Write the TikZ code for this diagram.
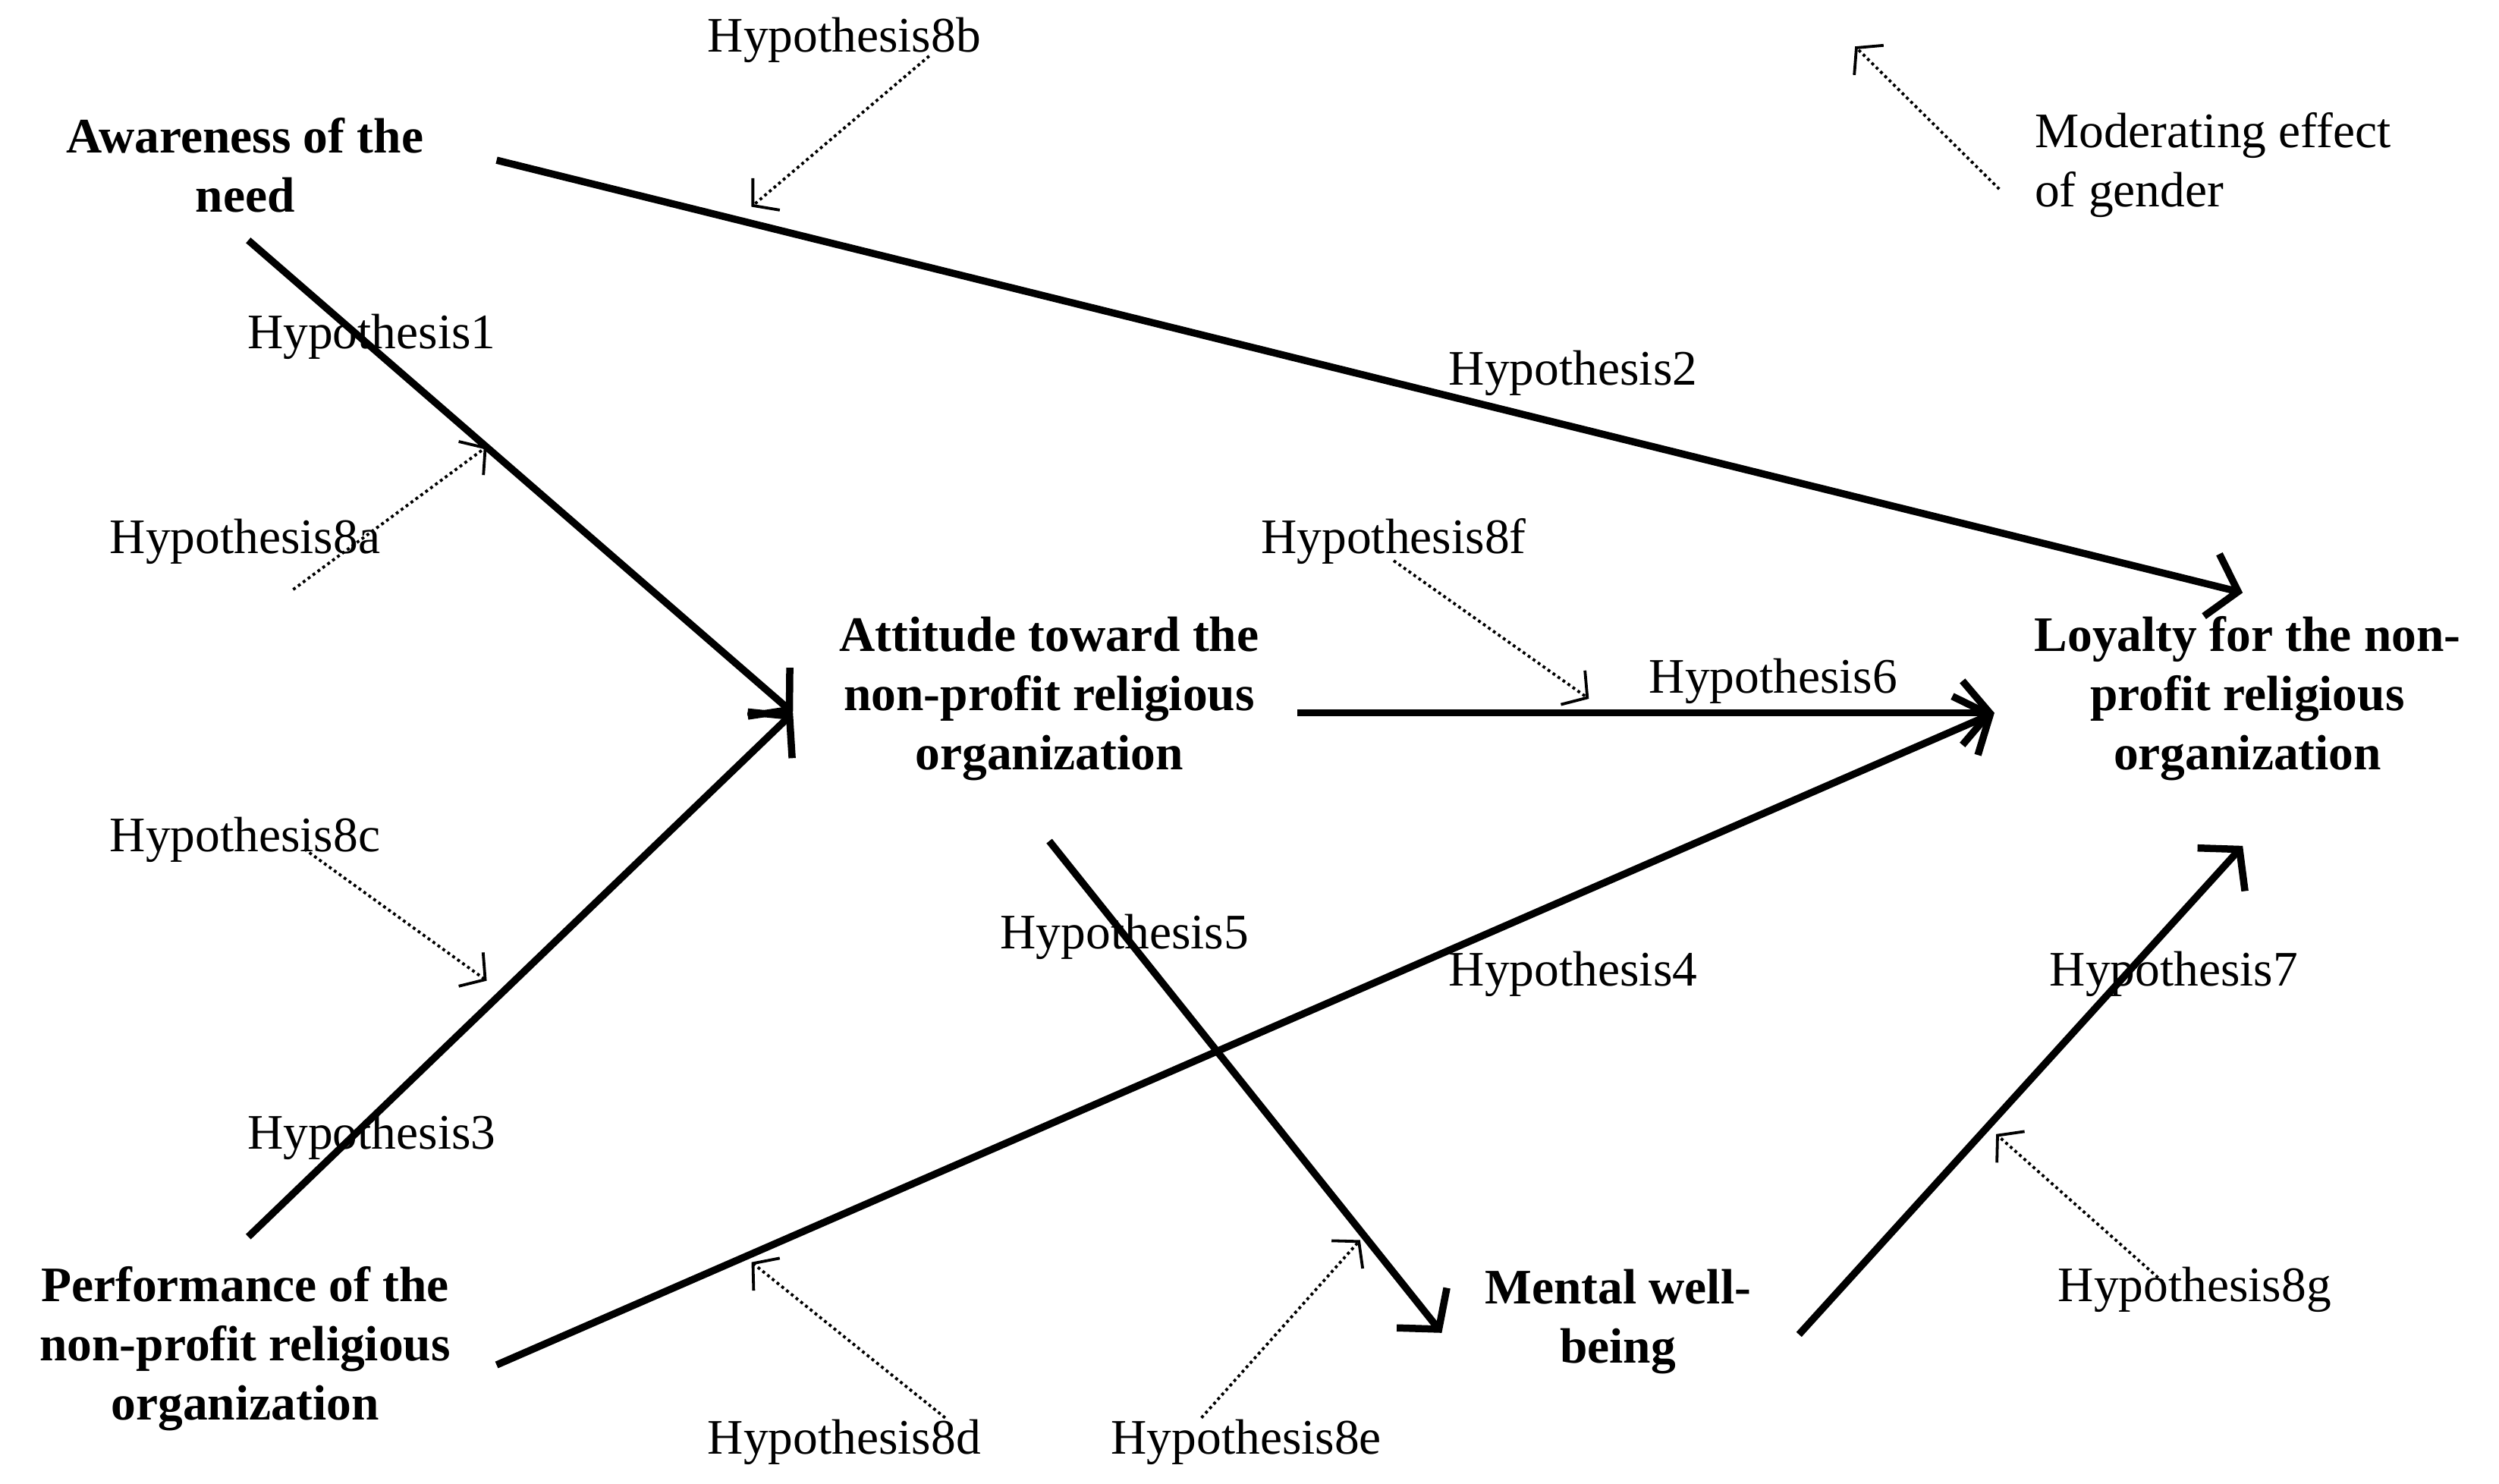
\documentclass[tikz,border=0pt]{standalone}
\usepackage{fontspec}
\setmainfont{Liberation Serif}
\usetikzlibrary{arrows.meta}
\begin{document}
\begin{tikzpicture}[x=1pt,y=-1pt,
 lab/.style={font=\fontsize{31}{37}\selectfont,inner sep=0pt},
 var/.style={font=\fontsize{31}{37}\selectfont\bfseries,align=center,inner sep=0pt},
 main/.style={line width=4.5pt,-{Straight Barb[length=17pt,width=40pt,line width=4.5pt]}},
 mod/.style={line width=1.8pt,dotted,-{Straight Barb[length=11pt,width=26pt,line width=1.8pt,sep]}}]
\useasboundingbox (0,0) rectangle (1560,926);
\node[var] (aw) at (153,103) {Awareness of the\\need};
\node[var] (att) at (655,436) {Attitude toward the\\non-profit religious\\organization};
\node[var] (loy) at (1403,436) {Loyalty for the non-\\profit religious\\organization};
\node[var] (perf) at (153,842) {Performance of the\\non-profit religious\\organization};
\node[var] (men) at (1010,825) {Mental well-\\being};
\node[lab,align=left,anchor=west] (gen) at (1270,103) {Moderating effect\\of gender};
\coordinate (a1) at (155,150); \coordinate (a2) at (310,100);
\coordinate (t1) at (495,445); \coordinate (t2) at (810,445); \coordinate (t3) at (655,525);
\coordinate (l1) at (1400,370); \coordinate (l2) at (1245,445); \coordinate (l3) at (1400,528);
\coordinate (p1) at (155,772); \coordinate (p2) at (310,852);
\coordinate (m1) at (900,832); \coordinate (m2) at (1123,833);
\draw[main] (a1) -- (t1);
\draw[main] (a2) -- (l1);
\draw[main] (p1) -- (t1);
\draw[main] (p2) -- (l2);
\draw[main] (t2) -- (l2);
\draw[main] (t3) -- (m1);
\draw[main] (m2) -- (l3);
\coordinate (d1s) at (580,35); \coordinate (d1e) at (468,130);
\coordinate (d2s) at (1248,118); \coordinate (d2e) at (1157,28);
\coordinate (d3s) at (183,368); \coordinate (d3e) at (305,278);
\coordinate (d4s) at (190,530); \coordinate (d4e) at (305,613);
\coordinate (d5s) at (870,350); \coordinate (d5e) at (993,437);
\coordinate (d6s) at (590,885); \coordinate (d6e) at (468,787);
\coordinate (d7s) at (750,885); \coordinate (d7e) at (850,773);
\coordinate (d8s) at (1350,800); \coordinate (d8e) at (1245,707);
\foreach \i in {1,...,8} \draw[mod] (d\i s) -- (d\i e);
\node[lab] (h8b) at (527,25) {Hypothesis8b};
\node[lab] (h1) at (232,210) {Hypothesis1};
\node[lab] (h2) at (982,233) {Hypothesis2};
\node[lab] (h8a) at (153,338) {Hypothesis8a};
\node[lab] (h8f) at (870,338) {Hypothesis8f};
\node[lab] (h6) at (1107,425) {Hypothesis6};
\node[lab] (h8c) at (153,524) {Hypothesis8c};
\node[lab] (h5) at (702,585) {Hypothesis5};
\node[lab] (h4) at (982,608) {Hypothesis4};
\node[lab] (h7) at (1357,608) {Hypothesis7};
\node[lab] (h3) at (232,710) {Hypothesis3};
\node[lab] (h8g) at (1370,805) {Hypothesis8g};
\node[lab] (h8d) at (527,900) {Hypothesis8d};
\node[lab] (h8e) at (778,900) {Hypothesis8e};
\end{tikzpicture}
\end{document}
